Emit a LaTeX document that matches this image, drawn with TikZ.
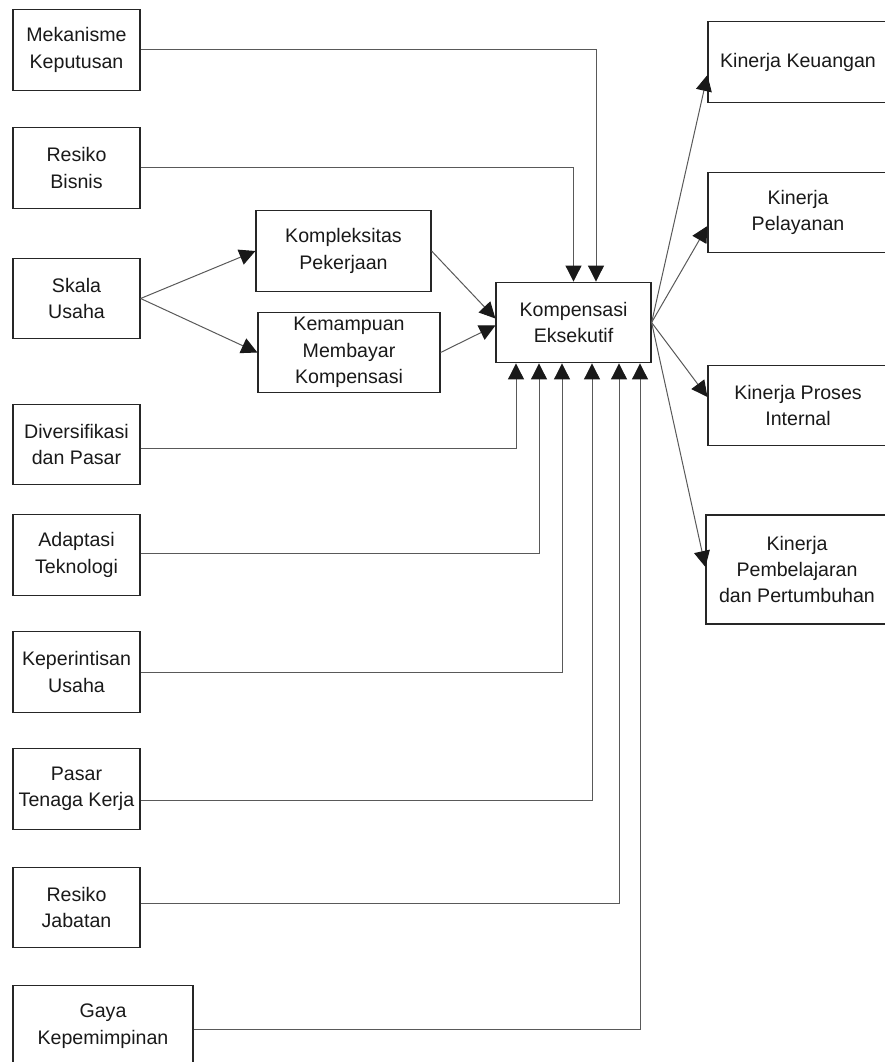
\documentclass[tikz,border=0pt]{standalone}
\usepackage{fontspec}
\setmainfont{Liberation Sans}
\usetikzlibrary{positioning, arrows.meta, calc}

\begin{document}
\begin{tikzpicture}[x=0.75pt, y=-0.75pt,
    box/.style={draw=black!85, line width=0.9pt, align=center, inner sep=2pt,
        font=\fontsize{14.7}{19.8}\selectfont, text=black!90, minimum height=60.5pt},
    leftbox/.style={box, minimum width=95.25pt},
    rightbox/.style={box, minimum width=135pt},
    link/.style={draw=black!65, line width=0.75pt,
        -{Triangle[length=12pt, width=12pt, color=black!90]}}
]
    \useasboundingbox (0,0) rectangle (884,1062);

    % Left column: factors
    \node[leftbox] (mek) at (76.5,50) {Mekanisme\\Keputusan};
    \node[leftbox] (bis) at (76.5,168) {Resiko\\Bisnis};
    \node[leftbox] (ska) at (76.5,298.5) {Skala\\Usaha};
    \node[leftbox] (div) at (76.5,444.5) {Diversifikasi\\dan Pasar};
    \node[leftbox] (ada) at (76.5,555) {Adaptasi\\Teknologi};
    \node[leftbox] (kep) at (76.5,672) {Keperintisan\\Usaha};
    \node[leftbox] (pas) at (76.5,789) {Pasar\\Tenaga Kerja};
    \node[leftbox] (jab) at (76.5,907.5) {Resiko\\Jabatan};
    \node[box, minimum width=135pt] (gaya) at (103,1026) {Gaya\\Kepemimpinan};

    % Middle: mediators and compensation
    \node[box, minimum width=131.25pt] (komp) at (343.5,251) {Kompleksitas\\Pekerjaan};
    \node[box, minimum width=136.5pt] (kemb) at (349,352.5) {Kemampuan\\Membayar\\Kompensasi};
    \node[box, minimum width=116.25pt] (kom) at (573.5,322.5) {Kompensasi\\Eksekutif};

    % Right column: performance (cut at the right edge)
    \node[rightbox] (keu) at (798,62) {Kinerja Keuangan};
    \node[rightbox] (pel) at (798,212.5) {Kinerja\\Pelayanan};
    \node[rightbox] (pro) at (798,405.5) {Kinerja Proses\\Internal};
    \node[rightbox, minimum width=136.5pt, minimum height=81.75pt] (pem) at (797,569.5)
        {Kinerja\\Pembelajaran\\dan Pertumbuhan};

    % Inputs from above
    \draw[link] (mek.east) -| ($(kom.north)+(22.5,0)$);
    \draw[link] (bis.east) -| (kom.north);

    % Skala Usaha via mediators
    \draw[link] (ska.east) -- (komp.west);
    \draw[link] (ska.east) -- (kemb.west);
    \draw[link] (komp.east) -- ($(kom.west)+(0,-4)$);
    \draw[link] (kemb.east) -- ($(kom.west)+(0,3)$);

    % Inputs from below
    \foreach \src/\dy/\dx in {div/3.5/-57.5, ada/-2/-34.5, kep/0/-11.5,
                              pas/11/18.5, jab/-4.5/45.5, gaya/3/66.5} {
        \draw[link] ($(\src.east)+(0,\dy)$) -| ($(kom.south)+(\dx,0)$);
    }

    % Outputs
    \draw[link] (kom.east) -- ($(keu.west)+(0,13)$);
    \draw[link] (kom.east) -- ($(pel.west)+(0,13.5)$);
    \draw[link] (kom.east) -- ($(pro.west)+(0,-8.5)$);
    \draw[link] (kom.east) -- ($(pem.west)+(0,-2.5)$);
\end{tikzpicture}
\end{document}
